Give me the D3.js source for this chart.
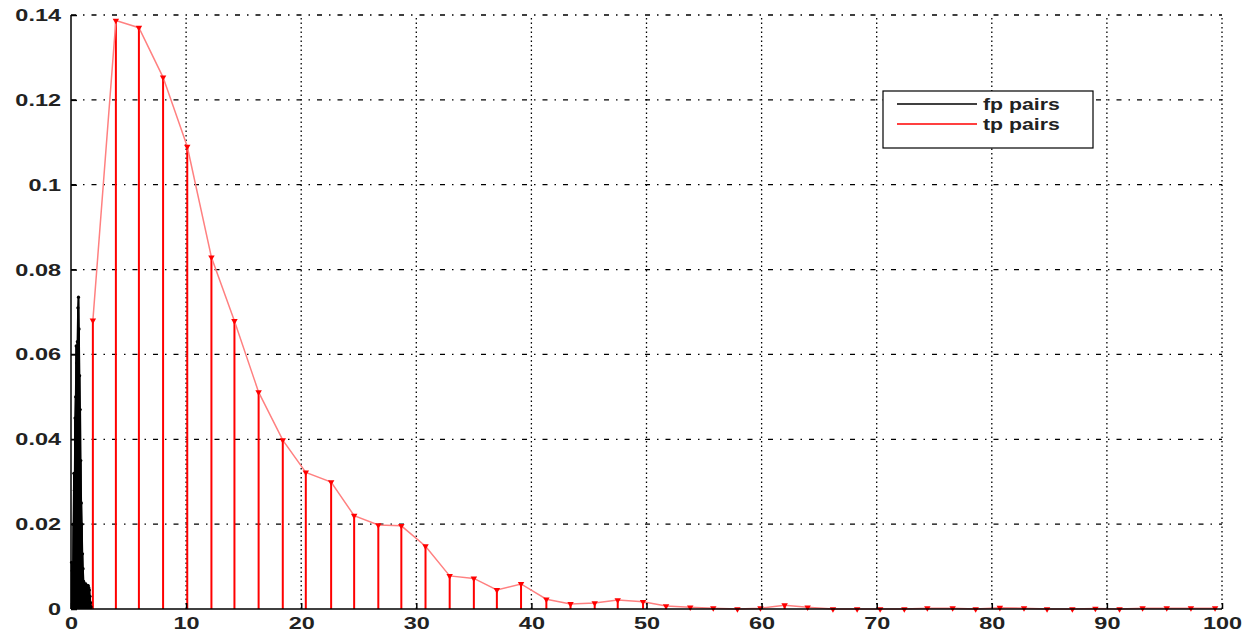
<!DOCTYPE html>
<html>
<head>
<meta charset="utf-8">
<script src="https://cdn.jsdelivr.net/npm/d3@7"></script>
<style>
  body { margin: 0; background: #fff; }
  svg { display: block; }
  text { font-family: "Liberation Sans", Arial, sans-serif; font-weight: bold; fill: #222; }
</style>
</head>
<body>
<div id="chart"></div>
<script>
// tp pairs: bin centres and frequencies
const tpX = [1.9, 3.9, 5.9, 8.0, 10.1, 12.2, 14.2, 16.3, 18.4, 20.4, 22.6, 24.6, 26.7, 28.7, 30.8, 32.9,
  35.0, 37.0, 39.1, 41.3, 43.4, 45.5, 47.5, 49.7, 51.7, 53.8, 55.8, 57.9, 59.9, 62.0, 64.0, 66.2,
  68.3, 70.3, 72.4, 74.4, 76.6, 78.6, 80.7, 82.8, 84.8, 87.0, 89.0, 91.1, 93.1, 95.2, 97.3, 99.4];
const tpY = [0.068, 0.1387, 0.137, 0.1253, 0.109, 0.0829, 0.0679, 0.0511, 0.0398, 0.0322, 0.0299, 0.022,
  0.0198, 0.0196, 0.0148, 0.0078, 0.0072, 0.0045, 0.0059, 0.0023, 0.0012, 0.0014, 0.0021, 0.0017,
  0.0007, 0.0004, 0.0002, 0, 0.0002, 0.0009, 0.0004, 0, 0, 0, 0, 0.0002, 0.0002, 0, 0.0003, 0.0002,
  0, 0, 0.0001, 0, 0.0002, 0.0002, 0.0002, 0.0002];

// fp pairs: dense bins near zero
const fpX = [0.05, 0.1, 0.15, 0.2, 0.25, 0.3, 0.35, 0.4, 0.45, 0.5, 0.55, 0.6, 0.65, 0.7, 0.75, 0.8,
  0.85, 0.9, 0.95, 1.0, 1.05, 1.1, 1.15, 1.2, 1.25, 1.3, 1.35, 1.4, 1.45, 1.5, 1.55, 1.6, 1.65, 1.7, 1.75];
const fpY = [0.011, 0.009, 0.006, 0.02, 0.032, 0.028, 0.045, 0.05, 0.062, 0.058, 0.063, 0.071, 0.0735,
  0.066, 0.055, 0.047, 0.035, 0.025, 0.02, 0.013, 0.0095, 0.0065, 0.0055, 0.006, 0.0055, 0.0058,
  0.005, 0.0052, 0.0055, 0.0055, 0.005, 0.0045, 0.003, 0.0015, 0.0005];

const xTicks = [0, 10, 20, 30, 40, 50, 60, 70, 80, 90, 100];
const yTicks = [0, 0.02, 0.04, 0.06, 0.08, 0.1, 0.12, 0.14];
const seriesNames = ["fp pairs", "tp pairs"];

const w = 1245, h = 633;
const margin = {top: 15, right: 23, bottom: 24, left: 71};

const svg = d3.select("#chart").append("svg")
  .attr("width", w).attr("height", h);

const x = d3.scaleLinear().domain([0, 100]).range([margin.left, w - margin.right]);
const y = d3.scaleLinear().domain([0, 0.14]).range([h - margin.bottom, margin.top]);

// grid
svg.append("g").selectAll("line").data(xTicks.slice(1)).join("line")
  .attr("x1", d => x(d)).attr("x2", d => x(d))
  .attr("y1", y(0)).attr("y2", y(0.14))
  .attr("stroke", "#000").attr("stroke-width", 1.3)
  .attr("stroke-dasharray", "1.5,3");
svg.append("g").selectAll("line").data(yTicks.slice(1)).join("line")
  .attr("x1", x(0)).attr("x2", x(100))
  .attr("y1", d => y(d)).attr("y2", d => y(d))
  .attr("stroke", "#000").attr("stroke-width", 1.3)
  .attr("stroke-dasharray", "5,7,1.5,7");

// tp pairs: stems, joining line, markers
const tp = tpX.map((d, i) => [d, tpY[i]]);
svg.append("g").selectAll("line").data(tp).join("line")
  .attr("x1", d => x(d[0])).attr("x2", d => x(d[0]))
  .attr("y1", y(0)).attr("y2", d => y(d[1]))
  .attr("stroke", "#ff0000").attr("stroke-width", 2);
svg.append("path").datum(tp)
  .attr("d", d3.line().x(d => x(d[0])).y(d => y(d[1])))
  .attr("fill", "none").attr("stroke", "#ff8080").attr("stroke-width", 1.5);
svg.append("g").selectAll("path").data(tp).join("path")
  .attr("d", d3.symbol(d3.symbolTriangle, 18))
  .attr("transform", d => `translate(${x(d[0])},${y(d[1])}) rotate(180)`)
  .attr("fill", "#ff0000");

// fp pairs
const fp = fpX.map((d, i) => [d, fpY[i]]);
svg.append("g").selectAll("line").data(fp).join("line")
  .attr("x1", d => x(d[0])).attr("x2", d => x(d[0]))
  .attr("y1", y(0)).attr("y2", d => y(d[1]))
  .attr("stroke", "#000").attr("stroke-width", 1.8);
svg.append("path").datum(fp)
  .attr("d", d3.line().x(d => x(d[0])).y(d => y(d[1])))
  .attr("fill", "none").attr("stroke", "#000").attr("stroke-width", 1.5);
svg.append("g").selectAll("circle").data(fp).join("circle")
  .attr("cx", d => x(d[0])).attr("cy", d => y(d[1])).attr("r", 1.6)
  .attr("fill", "#000");

// axes
const xAxis = d3.axisBottom(x).tickValues(xTicks).tickSize(-6).tickPadding(8).tickFormat(d3.format("d"));
const gx = svg.append("g").attr("transform", `translate(0,${y(0)})`).call(xAxis);
const yAxis = d3.axisLeft(y).tickValues(yTicks).tickSize(-6).tickPadding(10)
  .tickFormat(d => d === 0 ? "0" : d3.format("")(+d.toFixed(2)));
const gy = svg.append("g").attr("transform", `translate(${x(0)},0)`).call(yAxis);

[gx, gy].forEach(g => {
  g.select(".domain").attr("stroke", "#000").attr("stroke-width", 1.5);
  g.selectAll(".tick line").attr("stroke", "#000").attr("stroke-width", 1.5);
  g.selectAll("text").attr("font-size", 17).attr("fill", "#222")
    .style("font-family", "Liberation Sans, Arial, sans-serif").style("font-weight", "bold");
});
gx.selectAll(".domain").attr("d", `M${x(0)},0H${x(100)}`);
gy.selectAll(".domain").attr("d", `M0,${y(0)}V${y(0.14)}`);
// labels in the reference are stretched horizontally
svg.selectAll(".tick text").each(function() {
  const len = this.getComputedTextLength();
  d3.select(this).attr("textLength", len * 1.38).attr("lengthAdjust", "spacingAndGlyphs");
});

// legend
const legend = svg.append("g").attr("transform", "translate(883,91)");
legend.append("rect").attr("width", 210).attr("height", 57)
  .attr("fill", "#fff").attr("stroke", "#000").attr("stroke-width", 1.2);
const colors = ["#000", "#ff0000"];
seriesNames.forEach((name, i) => {
  legend.append("line").attr("x1", 14).attr("x2", 94)
    .attr("y1", 13 + i * 20).attr("y2", 13 + i * 20)
    .attr("stroke", colors[i]).attr("stroke-width", 1.5);
  const t = legend.append("text").attr("x", 100).attr("y", 19 + i * 20)
    .attr("font-size", 17).text(name);
  const len = t.node().getComputedTextLength();
  t.attr("textLength", len * 1.25).attr("lengthAdjust", "spacingAndGlyphs");
});
</script>
</body>
</html>
